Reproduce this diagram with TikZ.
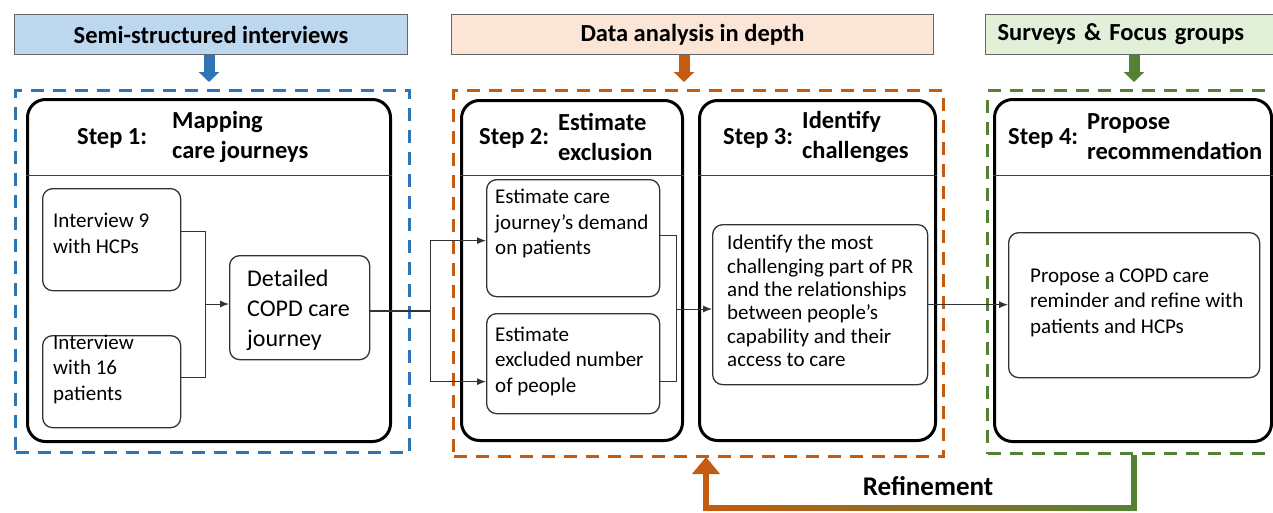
\documentclass[tikz,border=0pt]{standalone}
\usepackage{fontspec}
\setmainfont{Carlito}
\usetikzlibrary{arrows.meta}
\definecolor{cblue}{HTML}{2E75B6}
\definecolor{corange}{HTML}{C55A11}
\definecolor{cgreen}{HTML}{548235}
\definecolor{fblue}{HTML}{BDD7EE}
\definecolor{forange}{HTML}{FBE5D6}
\definecolor{fgreen}{HTML}{E2F0D9}
\tikzset{
  hdr/.style={draw=black!60, line width=1pt, font=\bfseries\fontsize{24.5}{29}\selectfont, inner sep=0pt, anchor=north west, minimum height=40pt},
  grp/.style={line width=3pt, dash pattern=on 13pt off 9pt, anchor=north west, inner sep=0pt},
  steprect/.style={draw=black, line width=3pt, rounded corners=18pt, anchor=north west, inner sep=0pt},
  divider/.style={draw=black!75, line width=1pt},
  ibox/.style={draw=black!80, line width=1.3pt, rounded corners=10pt, anchor=north west, inner sep=0pt},
  steplbl/.style={font=\bfseries\fontsize{24.5}{30}\selectfont, inner sep=0pt, anchor=west, align=left},
  itxt/.style={font=\fontsize{21}{25.5}\selectfont, inner sep=0pt, anchor=west, align=left},
  conn/.style={draw=black!80, line width=1pt},
  tip/.style={-{Latex[length=9pt,width=7pt]}},
  harrow/.style={line width=11pt, -{Triangle[length=10pt,width=20pt]}},
}
\begin{document}
\begin{tikzpicture}[x=1pt,y=-1pt]
\useasboundingbox (0,0) rectangle (1273,512);
\fill[white] (0,0) rectangle (1273,512);

% header boxes
\node[hdr, fill=fblue, minimum width=393pt] (semi) at (14,14) {Semi-structured interviews};
\node[hdr, fill=forange, minimum width=482pt] (data) at (451,14) {Data analysis in depth};
\node[hdr, fill=fgreen, text width=296pt, inner xsep=12pt, align=left] (surv) at (985,14) {Surveys \& Focus groups};

% dashed groups
\node[grp, draw=cblue, minimum width=394pt, minimum height=362pt] (g1) at (14,89) {};
\node[grp, draw=corange, minimum width=490pt, minimum height=366pt] (g2) at (452,89) {};
\node[grp, draw=cgreen, minimum width=320pt, minimum height=363pt] (g3) at (986,89) {};

% header arrows
\coordinate (a1) at (209,82);
\coordinate (a2) at (684,82);
\coordinate (a3) at (1134,82);
\draw[harrow, cblue] (a1 |- semi.south) -- (a1);
\draw[harrow, corange] (a2 |- data.south) -- (a2);
\draw[harrow, cgreen] (a3 |- surv.south) -- (a3);

% step rectangles
\node[steprect, minimum width=363pt, minimum height=342pt] (s1) at (26,98) {};
\node[steprect, minimum width=221pt, minimum height=340pt] (s2) at (460,99) {};
\node[steprect, minimum width=236pt, minimum height=340pt] (s3) at (698,99) {};
\node[steprect, minimum width=277pt, minimum height=342pt] (s4) at (993,98) {};
\foreach \s in {s1,s2,s3,s4}{
  \draw[divider] (\s.west |- 0,175) -- (\s.east |- 0,175);
}

% step labels
\node[steplbl] (l1a) at (77,138) {Step 1:};
\node[steplbl] (l1b) at (172,137) {Mapping\\care journeys};
\node[steplbl] (l2a) at (479,138) {Step 2:};
\node[steplbl] (l2b) at (558,137) {Estimate\\exclusion};
\node[steplbl] (l3a) at (723,138) {Step 3:};
\node[steplbl] (l3b) at (802,137) {Identify\\challenges};
\node[steplbl] (l4a) at (1008,138) {Step 4:};
\node[steplbl] (l4b) at (1087,137) {Propose\\recommendation};

% inner boxes
\node[ibox, minimum width=138pt, minimum height=102pt] (i9) at (42,188) {};
\node[itxt] (t9) at (53,233.5) {Interview 9\\with HCPs};
\node[ibox, minimum width=138pt, minimum height=92pt] (i16) at (42,335) {};
\node[itxt] (t16) at (53,369) {Interview\\with 16\\patients};
\node[ibox, minimum width=140pt, minimum height=104pt] (det) at (229,255) {};
\node[itxt, font=\fontsize{24}{30}\selectfont] (tdet) at (247,310) {Detailed\\COPD care\\journey};

\node[ibox, minimum width=173pt, minimum height=117pt] (ea) at (486,179) {};
\node[itxt] (tea) at (495,223.5) {Estimate care\\journey’s demand\\on patients};
\node[ibox, minimum width=173pt, minimum height=100pt] (eb) at (486,313) {};
\node[itxt] (teb) at (495,361) {Estimate\\excluded number\\of people};

\node[ibox, minimum width=215pt, minimum height=160pt] (idb) at (712,224) {};
\node[itxt, font=\fontsize{21}{23.3}\selectfont] (tid) at (727,301) {Identify the most\\challenging part of PR\\and the relationships\\between people’s\\capability and their\\access to care};

\node[ibox, minimum width=251pt, minimum height=145pt] (prop) at (1008,232) {};
\node[itxt] (tprop) at (1030,302.5) {Propose a COPD care\\reminder and refine with\\patients and HCPs};

% connectors step 1
\coordinate (j1) at (205,304);
\draw[conn] ([yshift=8pt]i9.east) -| (j1);
\draw[conn] ([yshift=4pt]i16.east) -| (j1);
\draw[conn, tip] (j1) -- (j1 -| det.west);

% det to step 2
\coordinate (j2) at (430,311);
\draw[conn, line width=1.6pt] (j2 -| det.east) -- (j2);
\draw[conn, tip] (j2) |- ([yshift=-2.5pt]ea.west);
\draw[conn, tip] (j2) |- ([yshift=-18pt]eb.west);

% step 2 to step 3
\coordinate (j3) at (676,309);
\draw[conn] ([yshift=2.5pt]ea.east) -| (j3);
\draw[conn] ([yshift=-18pt]eb.east) -| (j3);
\draw[conn, tip] (j3) -- (j3 -| idb.west);

% step 3 to step 4
\draw[conn, tip] (idb.east) -- (idb.east -| prop.west);

% refinement loop
\coordinate (r2) at (1134,508);
\coordinate (r3) at (706,508);
\coordinate (r4) at (706,457);
\shade[left color=corange, right color=cgreen] (703.25,505.25) rectangle (1136.75,510.75);
\draw[cgreen, line width=5.5pt] (g3.south -| r2) -- ([yshift=-2.75pt]r2);
\draw[corange, line width=5.5pt, -{Triangle[length=17pt,width=27pt]}] ([yshift=-2.75pt]r3) -- (r4);
\node[font=\bfseries\fontsize{27}{32}\selectfont, inner sep=0pt] (ref) at (928,486) {Refinement};
\end{tikzpicture}
\end{document}
